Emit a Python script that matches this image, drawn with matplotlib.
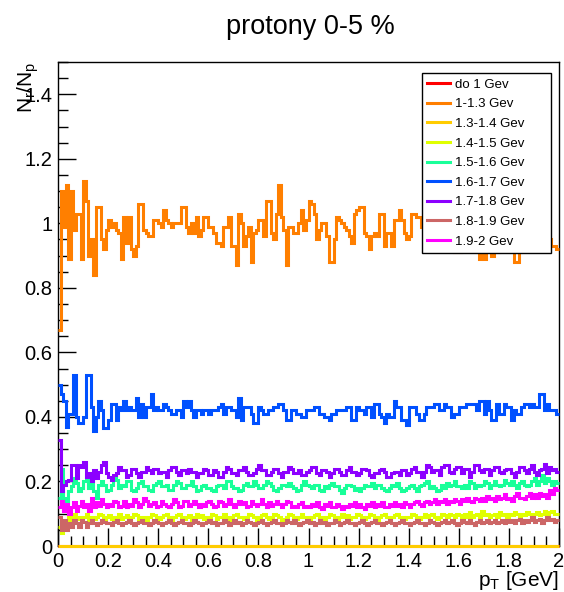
import numpy as np
import matplotlib
matplotlib.use("Agg")
import matplotlib.pyplot as plt
from matplotlib.ticker import MultipleLocator, FormatStrFormatter

plt.rcParams['font.family'] = ['Liberation Sans', 'DejaVu Sans']

# histogram binning: 200 bins over pT 0-2 GeV
n_bins = 200
pt_min, pt_max = 0.0, 2.0

labels = ["do 1 Gev", "1-1.3 Gev", "1.3-1.4 Gev", "1.4-1.5 Gev", "1.5-1.6 Gev",
          "1.6-1.7 Gev", "1.7-1.8 Gev", "1.8-1.9 Gev", "1.9-2 Gev"]
colors = ["#ff0000", "#ff7f00", "#ffcc00", "#e0ff00", "#19ff99",
          "#0050ff", "#8c00ff", "#cc6666", "#ff00ff"]

red_vals = [0.0] * n_bins
gold_vals = [0.0] * n_bins

orange_vals = [
    0.67, 1.10, 0.99, 1.12, 0.89, 1.10, 0.98, 1.03, 1.03, 0.89,
    1.13, 1.07, 0.90, 0.95, 0.84, 1.05, 1.05, 0.95, 0.92, 0.98,
    1.01, 0.99, 1.00, 0.98, 0.97, 0.89, 1.02, 0.94, 1.02, 0.92,
    0.90, 0.93, 1.06, 1.06, 0.98, 0.97, 0.96, 0.96, 1.01, 1.01,
    1.00, 0.99, 1.04, 1.01, 1.00, 0.99, 1.00, 1.00, 1.00, 1.05,
    1.05, 0.99, 0.97, 1.00, 0.97, 1.02, 0.96, 0.98, 1.02, 1.02,
    0.99, 0.99, 0.97, 0.94,
    0.94, 0.93, 0.99, 0.99, 1.02, 0.93, 0.93, 0.87, 1.03, 1.00,
    0.93, 0.96, 0.99, 0.88, 0.97, 0.98, 1.01, 1.01, 0.96, 1.07,
    1.07, 0.97, 0.95, 1.03, 1.12, 1.02, 0.98, 0.87, 0.99, 0.99,
    0.97, 0.97, 1.00, 1.04, 0.98, 1.01, 1.07, 1.06, 1.03, 0.95,
    0.98, 1.00, 1.00, 0.96, 0.88, 0.88, 0.95, 1.02, 1.01, 1.00,
    0.99, 0.98, 0.96, 0.94, 1.03, 1.04, 1.05, 1.05, 0.97, 0.96,
    0.92, 0.96, 0.97, 0.96, 1.03, 1.03, 0.93, 0.97,
    0.97, 0.93, 1.01, 1.01, 1.04, 1.01, 0.97, 0.95, 0.96, 1.03,
    1.03, 1.02, 1.02, 0.99, 1.02, 0.97, 1.01, 1.03, 0.98, 1.00,
    1.04, 0.97, 0.99, 1.01, 0.96, 1.00, 0.91, 0.97, 0.91, 0.98,
    1.02, 0.96, 1.00, 1.03, 0.95, 0.99, 0.89, 0.97, 0.89, 0.95,
    1.01, 0.90, 0.96, 0.91, 0.99, 1.02, 0.96, 1.00, 0.97, 1.01,
    0.88, 0.88, 0.97, 1.00, 0.95, 1.01, 0.92, 0.98, 0.93, 1.00,
    0.96, 1.01, 0.94, 0.98, 0.95, 0.93, 0.93, 0.92,
]

blue_vals = [
    0.50, 0.47, 0.45, 0.37, 0.41, 0.41, 0.53, 0.40, 0.38, 0.38,
    0.40, 0.53, 0.53, 0.43, 0.355, 0.40, 0.45, 0.42, 0.365, 0.365,
    0.39, 0.44, 0.44, 0.39, 0.43, 0.42, 0.45, 0.42, 0.43, 0.42,
    0.42, 0.46, 0.40, 0.44, 0.40, 0.43, 0.43, 0.47, 0.42, 0.43,
    0.42, 0.42, 0.44, 0.43, 0.42, 0.41, 0.41, 0.42, 0.42, 0.40,
    0.45, 0.43, 0.45, 0.42, 0.40, 0.42, 0.42, 0.41, 0.42, 0.42,
    0.41, 0.42, 0.42, 0.42,
    0.43, 0.44, 0.41, 0.43, 0.43, 0.42, 0.42, 0.40, 0.46, 0.39,
    0.43, 0.43, 0.43, 0.41, 0.38, 0.38, 0.43, 0.42, 0.41, 0.41,
    0.42, 0.42, 0.43, 0.43, 0.44, 0.44, 0.42, 0.39, 0.39, 0.42,
    0.42, 0.41, 0.41, 0.40, 0.40, 0.42, 0.42, 0.42, 0.43, 0.43,
    0.41, 0.41, 0.40, 0.40, 0.39, 0.41, 0.41, 0.42, 0.42, 0.42,
    0.42, 0.43, 0.43, 0.39, 0.39, 0.43, 0.42, 0.42, 0.41, 0.43,
    0.43, 0.40, 0.44, 0.44, 0.41, 0.40, 0.38, 0.41,
    0.40, 0.40, 0.45, 0.43, 0.43, 0.39, 0.39, 0.376, 0.43, 0.43,
    0.43, 0.41, 0.39, 0.39, 0.41, 0.43, 0.43, 0.43, 0.44, 0.44,
    0.42, 0.42, 0.44, 0.43, 0.43, 0.40, 0.41, 0.41, 0.43, 0.43,
    0.43, 0.44, 0.44, 0.44, 0.44, 0.42, 0.45, 0.45, 0.41, 0.45,
    0.42, 0.39, 0.39, 0.44, 0.41, 0.41, 0.44, 0.43, 0.43, 0.39,
    0.42, 0.41, 0.41, 0.43, 0.44, 0.44, 0.43, 0.44, 0.43, 0.43,
    0.47, 0.47, 0.42, 0.44, 0.42, 0.42, 0.42, 0.41,
]

yellow_vals = [
    0.06, 0.04, 0.07, 0.08, 0.09, 0.08, 0.10, 0.085, 0.09, 0.08, 0.09, 0.10, 0.08, 0.09, 0.085, 0.09, 0.10, 0.095, 0.08, 0.09,
    0.095, 0.085, 0.09, 0.09, 0.10, 0.085, 0.09, 0.095, 0.08, 0.09, 0.10, 0.095, 0.085, 0.09, 0.09, 0.08, 0.09, 0.10, 0.095, 0.09,
    0.085, 0.09, 0.095, 0.10, 0.09, 0.08, 0.09, 0.095, 0.10, 0.09, 0.085, 0.09, 0.095, 0.08, 0.09, 0.10, 0.09, 0.095, 0.085, 0.09,
    0.09, 0.10, 0.095, 0.085, 0.09, 0.09, 0.10, 0.09, 0.08, 0.09, 0.095, 0.10, 0.09, 0.09, 0.085, 0.09, 0.10, 0.095, 0.09, 0.08,
    0.09, 0.095, 0.10, 0.09, 0.085, 0.09, 0.10, 0.095, 0.09, 0.08, 0.085, 0.09, 0.10, 0.095, 0.09, 0.085, 0.09, 0.10, 0.09, 0.09,
    0.085, 0.09, 0.095, 0.10, 0.09, 0.09, 0.08, 0.09, 0.10, 0.095, 0.09, 0.085, 0.09, 0.10, 0.09, 0.095, 0.085, 0.09, 0.09, 0.10,
    0.095, 0.09, 0.085, 0.09, 0.10, 0.095, 0.09, 0.08, 0.09, 0.095, 0.10, 0.09, 0.085, 0.09, 0.095, 0.10, 0.09, 0.09, 0.085, 0.09,
    0.09, 0.10, 0.095, 0.09, 0.085, 0.09, 0.10, 0.09, 0.095, 0.10, 0.09, 0.085, 0.09, 0.10, 0.095, 0.09, 0.10, 0.095, 0.09, 0.10,
    0.095, 0.09, 0.10, 0.09, 0.105, 0.09, 0.095, 0.10, 0.09, 0.11, 0.095, 0.10, 0.09, 0.095, 0.10, 0.09, 0.105, 0.095, 0.10, 0.09,
    0.10, 0.095, 0.105, 0.10, 0.09, 0.10, 0.095, 0.105, 0.10, 0.09, 0.10, 0.105, 0.095, 0.10, 0.11, 0.10, 0.105, 0.11, 0.10, 0.10,
]

green_vals = [
    0.15, 0.24, 0.15, 0.14, 0.17, 0.185, 0.21, 0.195, 0.17, 0.18, 0.20, 0.22, 0.18, 0.21, 0.17, 0.15, 0.19, 0.20, 0.19, 0.17,
    0.175, 0.19, 0.21, 0.205, 0.18, 0.19, 0.185, 0.20, 0.20, 0.175, 0.17, 0.18, 0.195, 0.20, 0.185, 0.185, 0.175, 0.17, 0.19, 0.195,
    0.20, 0.185, 0.185, 0.19, 0.175, 0.175, 0.19, 0.20, 0.195, 0.18, 0.18, 0.19, 0.19, 0.20, 0.185, 0.17, 0.175, 0.185, 0.19, 0.18,
    0.18, 0.175, 0.17, 0.185, 0.19, 0.19, 0.18, 0.20, 0.20, 0.185, 0.18, 0.18, 0.17, 0.175, 0.19, 0.195, 0.185, 0.185, 0.20, 0.19,
    0.18, 0.18, 0.19, 0.20, 0.195, 0.185, 0.175, 0.17, 0.18, 0.19, 0.19, 0.185, 0.195, 0.185, 0.18, 0.17, 0.175, 0.19, 0.20, 0.19,
    0.185, 0.18, 0.19, 0.19, 0.175, 0.17, 0.185, 0.18, 0.19, 0.195, 0.185, 0.185, 0.175, 0.165, 0.18, 0.19, 0.19, 0.185, 0.175, 0.18,
    0.17, 0.18, 0.19, 0.185, 0.185, 0.195, 0.18, 0.19, 0.19, 0.18, 0.175, 0.17, 0.18, 0.19, 0.185, 0.195, 0.18, 0.17, 0.175, 0.18,
    0.185, 0.19, 0.18, 0.17, 0.185, 0.19, 0.195, 0.20, 0.18, 0.185, 0.18, 0.17, 0.175, 0.19, 0.18, 0.195, 0.185, 0.19, 0.20, 0.185,
    0.185, 0.18, 0.19, 0.18, 0.20, 0.195, 0.18, 0.19, 0.185, 0.19, 0.20, 0.195, 0.18, 0.19, 0.20, 0.19, 0.185, 0.19, 0.205, 0.195,
    0.19, 0.20, 0.19, 0.18, 0.195, 0.20, 0.19, 0.185, 0.19, 0.20, 0.21, 0.19, 0.20, 0.22, 0.195, 0.21, 0.20, 0.19, 0.20, 0.195,
]

purple_vals = [
    0.33, 0.17, 0.19, 0.20, 0.205, 0.25, 0.25, 0.21, 0.25, 0.245, 0.26, 0.215, 0.225, 0.20, 0.235, 0.21, 0.23, 0.25, 0.26, 0.225,
    0.215, 0.205, 0.22, 0.225, 0.245, 0.235, 0.235, 0.215, 0.22, 0.24, 0.24, 0.225, 0.215, 0.23, 0.23, 0.245, 0.235, 0.225, 0.24, 0.24,
    0.225, 0.23, 0.23, 0.215, 0.235, 0.245, 0.245, 0.23, 0.22, 0.235, 0.235, 0.225, 0.24, 0.23, 0.23, 0.215, 0.225, 0.225, 0.24, 0.235,
    0.22, 0.22, 0.235, 0.23, 0.215, 0.215, 0.23, 0.245, 0.24, 0.225, 0.225, 0.22, 0.235, 0.235, 0.245, 0.23, 0.22, 0.22, 0.225, 0.24,
    0.25, 0.235, 0.235, 0.22, 0.22, 0.23, 0.24, 0.24, 0.225, 0.215, 0.23, 0.23, 0.245, 0.24, 0.225, 0.225, 0.235, 0.22, 0.22, 0.23,
    0.235, 0.245, 0.245, 0.225, 0.22, 0.235, 0.235, 0.23, 0.215, 0.225, 0.24, 0.24, 0.23, 0.22, 0.22, 0.235, 0.245, 0.23, 0.23, 0.22,
    0.225, 0.24, 0.24, 0.235, 0.22, 0.215, 0.225, 0.225, 0.235, 0.24, 0.23, 0.215, 0.215, 0.225, 0.23, 0.23, 0.22, 0.235, 0.235, 0.22,
    0.225, 0.24, 0.245, 0.23, 0.23, 0.215, 0.23, 0.25, 0.245, 0.23, 0.235, 0.235, 0.22, 0.245, 0.25, 0.25, 0.23, 0.225, 0.24, 0.245,
    0.245, 0.225, 0.24, 0.24, 0.215, 0.23, 0.25, 0.25, 0.235, 0.23, 0.24, 0.24, 0.22, 0.235, 0.245, 0.245, 0.23, 0.225, 0.235, 0.24,
    0.24, 0.225, 0.215, 0.23, 0.245, 0.245, 0.235, 0.225, 0.24, 0.25, 0.23, 0.22, 0.235, 0.24, 0.255, 0.225, 0.245, 0.235, 0.24, 0.23,
]

brown_vals = [
    0.09, 0.05, 0.08, 0.05, 0.07, 0.06, 0.08, 0.07, 0.06, 0.08, 0.075, 0.06, 0.07, 0.08, 0.07, 0.065, 0.07, 0.08, 0.075, 0.07,
    0.07, 0.065, 0.075, 0.08, 0.07, 0.065, 0.07, 0.075, 0.08, 0.07, 0.065, 0.07, 0.075, 0.08, 0.07, 0.07, 0.065, 0.07, 0.08, 0.075,
    0.07, 0.065, 0.07, 0.075, 0.08, 0.07, 0.065, 0.07, 0.075, 0.08, 0.07, 0.07, 0.065, 0.07, 0.08, 0.075, 0.07, 0.065, 0.07, 0.075,
    0.08, 0.07, 0.075, 0.065, 0.07, 0.07, 0.08, 0.075, 0.065, 0.07, 0.08, 0.07, 0.075, 0.065, 0.07, 0.08, 0.075, 0.07, 0.065, 0.07,
    0.075, 0.08, 0.07, 0.065, 0.07, 0.075, 0.08, 0.07, 0.07, 0.065, 0.07, 0.08, 0.075, 0.07, 0.08, 0.07, 0.065, 0.07, 0.075, 0.08,
    0.07, 0.075, 0.065, 0.07, 0.08, 0.07, 0.075, 0.065, 0.07, 0.07, 0.08, 0.075, 0.065, 0.07, 0.075, 0.08, 0.07, 0.07, 0.065, 0.07,
    0.075, 0.08, 0.07, 0.065, 0.07, 0.075, 0.08, 0.07, 0.07, 0.065, 0.07, 0.075, 0.08, 0.07, 0.065, 0.07, 0.075, 0.08, 0.07, 0.07,
    0.065, 0.07, 0.075, 0.08, 0.07, 0.07, 0.065, 0.07, 0.08, 0.075, 0.07, 0.065, 0.07, 0.075, 0.08, 0.07, 0.075, 0.08, 0.07, 0.065,
    0.07, 0.08, 0.075, 0.07, 0.08, 0.07, 0.065, 0.075, 0.08, 0.07, 0.075, 0.08, 0.07, 0.075, 0.08, 0.07, 0.075, 0.08, 0.07, 0.08,
    0.075, 0.08, 0.07, 0.08, 0.085, 0.07, 0.08, 0.075, 0.08, 0.09, 0.075, 0.08, 0.085, 0.07, 0.08, 0.09, 0.08, 0.085, 0.075, 0.08,
]

magenta_vals = [
    0.12, 0.14, 0.11, 0.13, 0.10, 0.12, 0.135, 0.11, 0.125, 0.14, 0.12, 0.13, 0.11, 0.15, 0.12, 0.135, 0.125, 0.145, 0.13, 0.12,
    0.13, 0.125, 0.14, 0.135, 0.12, 0.125, 0.14, 0.12, 0.13, 0.125, 0.145, 0.135, 0.12, 0.13, 0.15, 0.14, 0.125, 0.13, 0.135, 0.12,
    0.125, 0.14, 0.13, 0.125, 0.12, 0.13, 0.145, 0.135, 0.12, 0.125, 0.14, 0.14, 0.125, 0.13, 0.14, 0.13, 0.12, 0.13, 0.125, 0.135,
    0.14, 0.13, 0.12, 0.125, 0.14, 0.135, 0.125, 0.13, 0.145, 0.13, 0.12, 0.13, 0.14, 0.13, 0.135, 0.12, 0.125, 0.14, 0.13, 0.125,
    0.13, 0.145, 0.13, 0.12, 0.135, 0.125, 0.13, 0.14, 0.13, 0.12, 0.13, 0.14, 0.135, 0.12, 0.125, 0.12, 0.13, 0.135, 0.12, 0.125,
    0.12, 0.13, 0.125, 0.135, 0.12, 0.115, 0.13, 0.125, 0.135, 0.12, 0.12, 0.13, 0.125, 0.115, 0.125, 0.12, 0.13, 0.125, 0.135, 0.12,
    0.13, 0.12, 0.115, 0.13, 0.125, 0.135, 0.12, 0.13, 0.125, 0.135, 0.12, 0.12, 0.13, 0.125, 0.135, 0.125, 0.13, 0.12, 0.135, 0.13,
    0.12, 0.13, 0.135, 0.14, 0.13, 0.125, 0.135, 0.14, 0.13, 0.135, 0.145, 0.13, 0.14, 0.135, 0.145, 0.13, 0.14, 0.135, 0.145, 0.14,
    0.13, 0.145, 0.14, 0.15, 0.14, 0.135, 0.15, 0.145, 0.14, 0.15, 0.14, 0.155, 0.145, 0.15, 0.14, 0.155, 0.145, 0.15, 0.16, 0.145,
    0.15, 0.14, 0.155, 0.165, 0.15, 0.15, 0.145, 0.155, 0.165, 0.15, 0.16, 0.15, 0.165, 0.155, 0.16, 0.15, 0.175, 0.16, 0.18, 0.175,
]

series = [red_vals, orange_vals, gold_vals, yellow_vals, green_vals,
          blue_vals, purple_vals, brown_vals, magenta_vals]

edges = np.linspace(pt_min, pt_max, n_bins + 1)

fig = plt.figure(figsize=(5.64, 5.92), dpi=100)
ax = fig.add_axes([58 / 564, 1 - 546 / 592, 501 / 564, 484 / 592])

for vals, col, lab in zip(series, colors, labels):
    ax.stairs(vals, edges, baseline=None, color=col, linewidth=2.2,
              label=lab, zorder=3, clip_on=False)

ax.set_xlim(pt_min, pt_max)
ax.set_ylim(0, 1.5)
ax.xaxis.set_major_locator(MultipleLocator(0.2))
ax.xaxis.set_minor_locator(MultipleLocator(0.05))
ax.yaxis.set_major_locator(MultipleLocator(0.2))
ax.yaxis.set_minor_locator(MultipleLocator(0.05))
ax.xaxis.set_major_formatter(FormatStrFormatter('%g'))
ax.yaxis.set_major_formatter(FormatStrFormatter('%g'))
ax.tick_params(which='both', direction='in', top=False, right=False,
               labelsize=14.5, width=1)
ax.tick_params(which='major', length=13)
ax.tick_params(which='minor', length=7)
ax.tick_params(axis='x', pad=4)
ax.tick_params(axis='y', pad=4)
for s in ax.spines.values():
    s.set_linewidth(1)

fig.text(0.55, 1 - 34 / 592, "protony 0-5 %", fontsize=19.5,
         ha='center', va='baseline')
fig.text(28 / 564, 1 - 62 / 592, r'$\mathregular{N_{r}/N_{p}}$', fontsize=15,
         rotation=90, ha='center', va='top')
fig.text(559 / 564, 1 - 586 / 592, r'$\mathregular{p_{T}}$ [GeV]', fontsize=15,
         ha='right', va='baseline')

# legend box spans px x 422-551, y 73-250
leg = ax.legend(loc='upper left', bbox_to_anchor=(0.7265, 0.977, 0.2575, 0.0),
                mode='expand', fontsize=9.5,
                frameon=True, fancybox=False, edgecolor='black', framealpha=1,
                handlelength=1.75, handletextpad=0.35, labelspacing=0.56,
                borderpad=0.4, borderaxespad=0)
leg.get_frame().set_linewidth(1)
for h in leg.get_lines():
    h.set_linewidth(2.2)

fig.savefig("out.png", dpi=100)
